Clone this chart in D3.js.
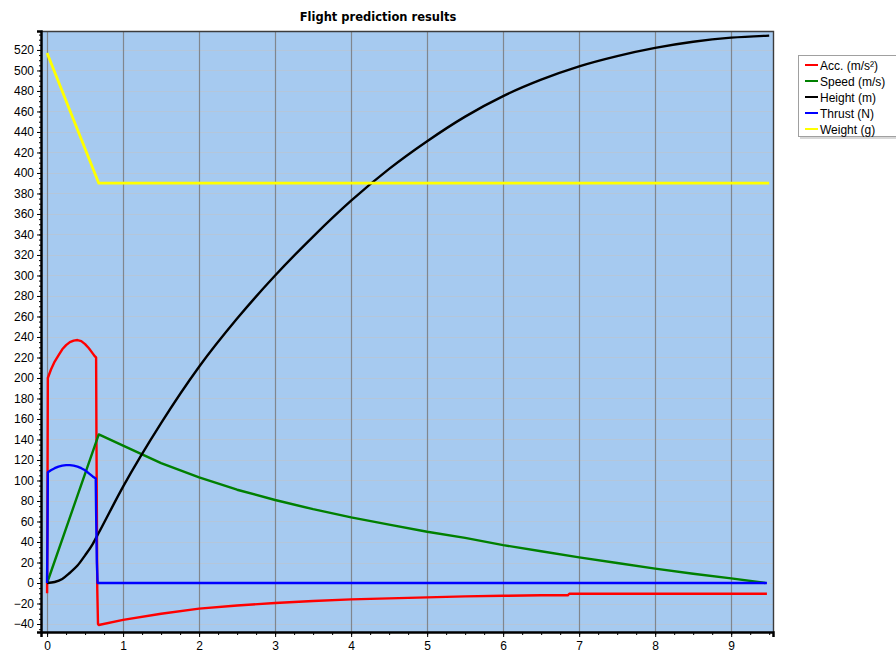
<!doctype html>
<html lang="en">
  <head>
    <meta charset="utf-8">
    <title>Flight prediction results</title>
    <style>
      body { margin: 0; background: #fff; }
      text { font-family: "Liberation Sans", Arial, sans-serif; }
    </style>
  </head>
  <body>
    <script src="https://cdn.jsdelivr.net/npm/d3@7"></script>
    <script>

// acceleration (m/s2)
var accTime  = [0, 0.005, 0.01, 0.05, 0.1, 0.15, 0.2, 0.25, 0.3, 0.35, 0.4, 0.45, 0.5, 0.55, 0.6, 0.63, 0.645,
                0.65, 0.66, 0.67, 0.68, 1, 1.5, 2, 2.5, 3, 3.5, 4, 4.5, 5, 5.5, 6, 6.5, 6.85, 6.87, 7.5, 8, 9, 9.47];
var accValue = [-10, 75, 200, 208, 216, 222, 228, 232, 235, 236.5, 237, 236, 233, 229, 224, 221, 220,
                135, -5, -40, -41, -36, -30, -25, -22, -19.5, -17.5, -16, -15, -14, -13, -12.5, -12, -12, -10.5, -10.5, -10.5, -10.5, -10.5];

// speed (m/s)
var speedTime  = [0, 0.68, 1, 1.5, 2, 2.5, 3, 3.5, 4, 4.5, 5, 5.5, 6, 6.5, 7, 7.5, 8, 8.5, 9, 9.45];
var speedValue = [0, 145, 134, 117, 103, 91, 81, 72, 64, 57, 50, 44, 37, 31, 25, 19.5, 14, 9, 4.5, 0];

// height (m)
var heightTime  = [0, 0.1, 0.2, 0.3, 0.4, 0.5, 0.6, 0.68, 1, 1.5, 2, 2.5, 3, 3.5, 4, 4.5, 5, 5.5, 6, 6.5, 7, 7.5, 8, 8.5, 9, 9.5];
var heightValue = [0, 1, 4, 10, 17, 27, 38, 49, 94, 156, 211, 258, 300, 338, 373, 404, 431, 455, 475, 491, 504, 514, 522, 528, 532, 534];

// thrust (N)
var thrustTime  = [0, 0.005, 0.01, 0.05, 0.1, 0.15, 0.2, 0.25, 0.3, 0.35, 0.4, 0.45, 0.5, 0.55, 0.6, 0.64, 0.645, 0.655, 0.66, 0.665, 9.47];
var thrustValue = [0, 45, 108, 110, 112, 113.5, 114.5, 115, 115, 114.5, 113.5, 112, 110, 107, 104, 102, 70, 20, 10, 0, 0];

// weight (g)
var weightTime  = [0, 0.68, 9.5];
var weightValue = [517, 390, 390];

var seriesNames  = ["Acc. (m/s\u00B2)", "Speed (m/s)", "Height (m)", "Thrust (N)", "Weight (g)"];
var seriesColors = ["#ff0000", "#008000", "#000000", "#0000ff", "#ffff00"];

var xTicks = d3.range(0, 10);
var yTicks = d3.range(-40, 521, 20);

function pairs(t, v) { return t.map(function(d, i){ return [d, v[i]]; }); }

var series = [
    pairs(accTime, accValue),
    pairs(speedTime, speedValue),
    pairs(heightTime, heightValue),
    pairs(thrustTime, thrustValue),
    pairs(weightTime, weightValue)
];

var width = 896, height = 655;
var plot = {left: 41, right: 773, top: 31, bottom: 632};

var svg = d3.select("body")
    .append("svg")
    .attr("width", width)
    .attr("height", height);

var x = d3.scaleLinear()
    .domain([-0.08, 9.55])
    .range([plot.left, plot.right]);

var y = d3.scaleLinear()
    .domain([-47.8, 538.5])
    .range([plot.bottom, plot.top]);

// title
svg.append("text")
   .attr("x", 378)
   .attr("y", 21)
   .attr("text-anchor", "middle")
   .style("font-family", "'DejaVu Sans', Tahoma, sans-serif")
   .style("font-weight", "bold")
   .style("font-size", "11.5px")
   .text("Flight prediction results");

// plot background
svg.append("rect")
   .attr("x", plot.left)
   .attr("y", plot.top)
   .attr("width", plot.right - plot.left)
   .attr("height", plot.bottom - plot.top)
   .attr("fill", "#a6caf0");

// horizontal grid (faint)
svg.append("g")
   .selectAll("line")
   .data(yTicks)
   .enter()
   .append("line")
   .attr("x1", plot.left)
   .attr("x2", plot.right)
   .attr("y1", function(d){ return Math.round(y(d)) + 0.5; })
   .attr("y2", function(d){ return Math.round(y(d)) + 0.5; })
   .attr("stroke", "#b4c6da")
   .attr("stroke-width", 1);

// vertical grid
svg.append("g")
   .selectAll("line")
   .data(xTicks)
   .enter()
   .append("line")
   .attr("x1", function(d){ return Math.round(x(d)) + 0.5; })
   .attr("x2", function(d){ return Math.round(x(d)) + 0.5; })
   .attr("y1", plot.top)
   .attr("y2", plot.bottom)
   .attr("stroke", "#80868e")
   .attr("stroke-width", 1.2);

// series (height is a smooth curve, the rest straight segments)
var line = d3.line()
    .x(function(d){ return x(d[0]); })
    .y(function(d){ return y(d[1]); });

var smooth = d3.line()
    .curve(d3.curveMonotoneX)
    .x(function(d){ return x(d[0]); })
    .y(function(d){ return y(d[1]); });

svg.append("g")
   .selectAll("path")
   .data(series)
   .enter()
   .append("path")
   .attr("d", function(d, i){ return i == 2 ? smooth(d) : line(d); })
   .attr("fill", "none")
   .attr("stroke", function(d, i){ return seriesColors[i]; })
   .attr("stroke-width", function(d, i){ return i == 4 ? 2.8 : 2.4; })
   .attr("stroke-linejoin", "round");

// frame top / right
svg.append("path")
   .attr("d", "M" + plot.left + "," + (plot.top + 0.5) + "H" + (plot.right + 0.5) + "V" + plot.bottom)
   .attr("fill", "none")
   .attr("stroke", "#3c3c3c")
   .attr("stroke-width", 1.4);

// y axis
svg.append("g")
   .attr("transform", "translate(" + plot.left + ",0)")
   .call(d3.axisLeft(y).tickValues(yTicks).tickSize(4).tickPadding(3));

svg.append("g")
   .attr("transform", "translate(" + plot.left + ",0)")
   .call(d3.axisLeft(y).tickValues(d3.range(-45, 536, 5)).tickSize(2).tickFormat(""))
   .select(".domain").remove();

// x axis
svg.append("g")
   .attr("transform", "translate(0," + plot.bottom + ")")
   .call(d3.axisBottom(x).tickValues(xTicks).tickSize(5).tickPadding(4).tickFormat(d3.format("d")));

svg.append("g")
   .attr("transform", "translate(0," + plot.bottom + ")")
   .call(d3.axisBottom(x).tickValues(d3.range(0, 9.6, 0.25)).tickSize(3).tickFormat(""))
   .select(".domain").remove();

svg.selectAll(".domain")
   .attr("stroke", "#000")
   .attr("stroke-width", 2.5);

svg.selectAll(".tick text")
   .style("font-family", "'Liberation Sans', Arial, sans-serif")
   .style("font-size", "12px")
   .attr("fill", "#000");

// legend
var legend = svg.append("g")
   .attr("transform", "translate(798,55)");

legend.append("rect")
   .attr("x", 2)
   .attr("y", 2)
   .attr("width", 100)
   .attr("height", 82)
   .attr("fill", "#d8d8d8");

legend.append("rect")
   .attr("x", 0.5)
   .attr("y", 0.5)
   .attr("width", 100)
   .attr("height", 81)
   .attr("fill", "#fff")
   .attr("stroke", "#a0a0a0");

var items = legend.selectAll(".item")
   .data(seriesNames)
   .enter()
   .append("g")
   .attr("transform", function(d, i){ return "translate(0," + (10 + i * 16) + ")"; });

items.append("line")
   .attr("x1", 7)
   .attr("x2", 20)
   .attr("stroke", function(d, i){ return seriesColors[i]; })
   .attr("stroke-width", 2);

items.append("text")
   .attr("x", 22)
   .attr("y", 4.5)
   .style("font-size", "12px")
   .text(function(d){ return d; });

    </script>
  </body>
</html>
